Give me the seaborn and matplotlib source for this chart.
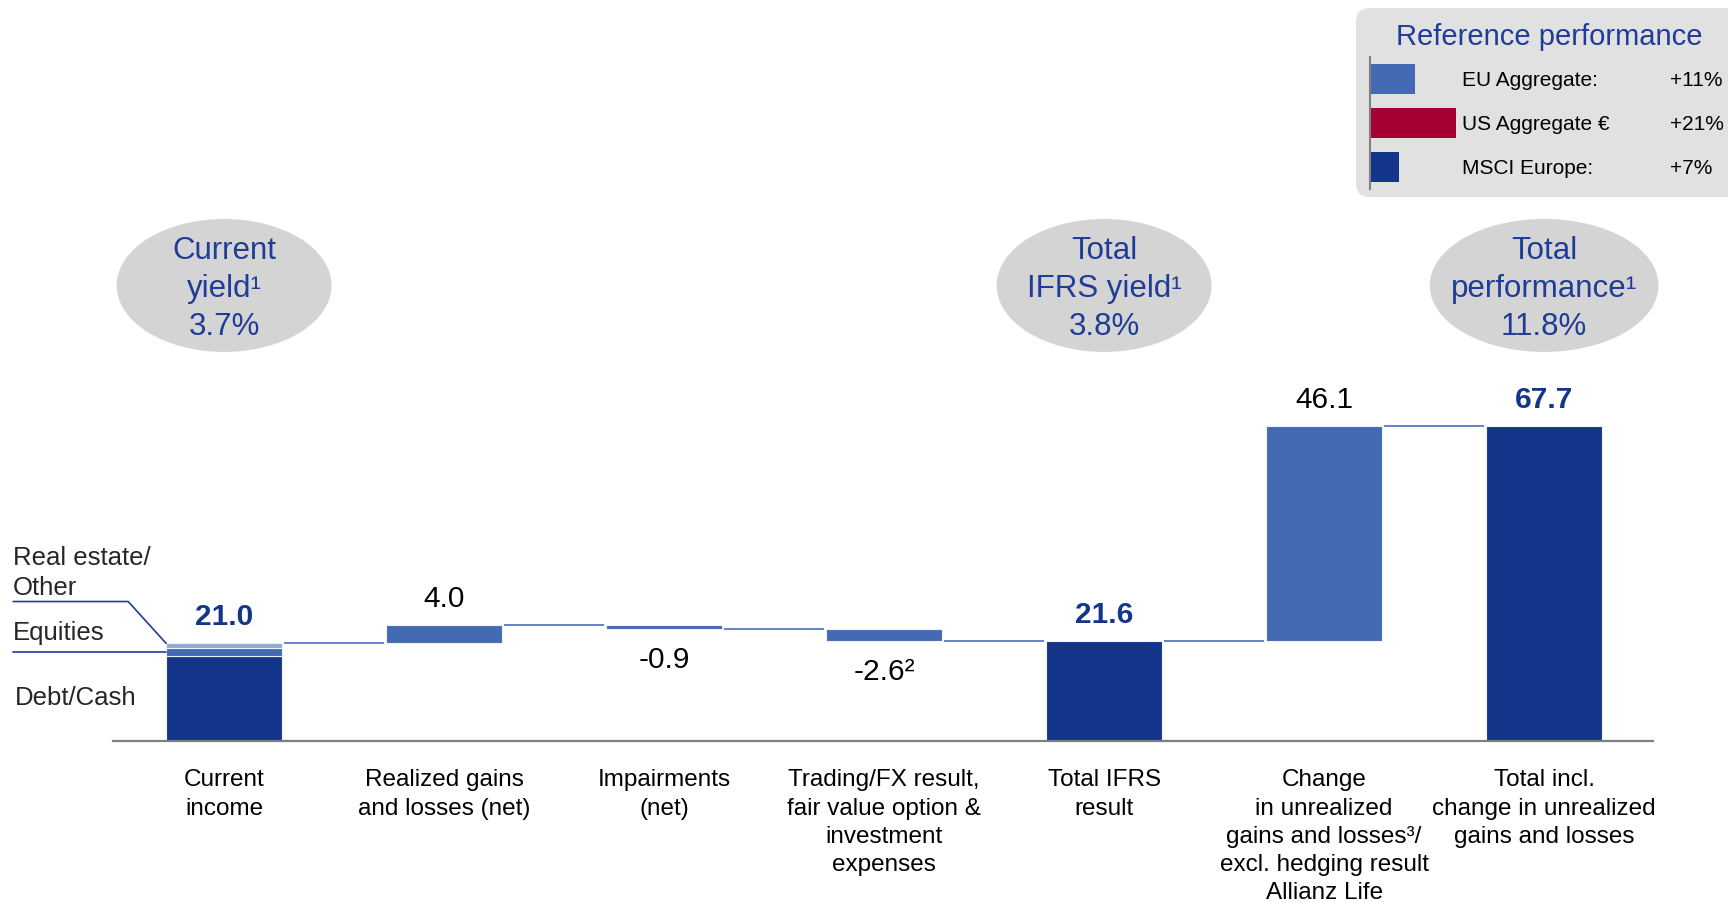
import numpy as np
import pandas as pd
import matplotlib.pyplot as plt
from matplotlib.patches import Ellipse, FancyBboxPatch
from matplotlib.transforms import blended_transform_factory
import seaborn as sns

# Waterfall steps (EUR bn)
steps = [
    "Current\nincome",
    "Realized gains\nand losses (net)",
    "Impairments\n(net)",
    "Trading/FX result,\nfair value option &\ninvestment\nexpenses",
    "Total IFRS\nresult",
    "Change\nin unrealized\ngains and losses³/\nexcl. hedging result\nAllianz Life",
    "Total incl.\nchange in unrealized\ngains and losses",
]
step_values = [21.0, 4.0, -0.9, -2.6, 21.6, 46.1, 67.7]
step_kind = ["total", "delta", "delta", "delta", "total", "delta", "total"]
value_labels = ["21.0", "4.0", "-0.9", "-2.6²", "21.6", "46.1", "67.7"]

# Split of current income
income_parts = ["Debt/Cash", "Equities", "Real estate/\nOther"]
income_values = [18.3, 1.8, 0.9]

# Yield bubbles
yield_steps = [0, 4, 6]
yield_labels = ["Current\nyield¹\n3.7%", "Total\nIFRS yield¹\n3.8%", "Total\nperformance¹\n11.8%"]

# Reference performance box
ref_names = ["EU Aggregate:", "US Aggregate €", "MSCI Europe:"]
ref_values = [11, 21, 7]
ref_labels = ["+11%", "+21%", "+7%"]

NAVY = "#13358a"
MID = "#436ab2"
LIGHT = "#8ea8d8"
CRIMSON = "#a50034"
TXT_BLUE = "#1f3c96"
BAR_W = 0.527

sns.set_theme(style="white")
plt.rcParams["font.family"] = ["Liberation Sans", "DejaVu Sans"]

# build segments: stacked first bar + floating bars
rows = []
level = 0.0
levels = []
for i, (v, k) in enumerate(zip(step_values, step_kind)):
    if i == 0:
        b = 0.0
        for part, pv, c in zip(income_parts, income_values, [NAVY, MID, LIGHT]):
            rows.append((steps[0], pv, b, c))
            b += pv
        level = v
    elif k == "total":
        rows.append((steps[i], v, 0.0, NAVY))
        level = v
    else:
        rows.append((steps[i], v, level, MID))
        level += v
    levels.append(level)
seg = pd.DataFrame(rows, columns=["step", "height", "bottom", "color"])
seg["seg_id"] = [f"s{i}" for i in range(len(seg))]

fig = plt.figure(figsize=(17.28, 9.02), dpi=100)
ax = fig.add_axes([0.0654, 0.1785, 0.8912, 0.8215])
ax.set_facecolor("none")

sns.barplot(data=seg, x="step", y="height", hue="seg_id", order=steps,
            hue_order=list(seg["seg_id"]), palette=dict(zip(seg["seg_id"], seg["color"])),
            dodge=False, width=BAR_W, errorbar=None, legend=False, saturation=1,
            edgecolor="#eef2fa", linewidth=0.8, ax=ax)
for patch, b in zip(ax.patches, seg["bottom"]):
    patch.set_y(b)

ax.set_xlim(-0.505, 6.495)
ax.set_ylim(0, 159.4)
ax.set_xlabel("")
ax.set_ylabel("")
ax.set_yticks([])
sns.despine(ax=ax, left=True)
ax.spines["bottom"].set_color("#7f7f7f")
ax.spines["bottom"].set_linewidth(1.6)
ax.tick_params(axis="x", length=0, pad=20.5, labelsize=17.5, colors="black")
for t in ax.get_xticklabels():
    t.set_linespacing(1.36)

# connectors
x = np.arange(len(steps))
ax.hlines(levels[:-1], x[:-1] + BAR_W / 2 + 0.01, x[1:] - BAR_W / 2 - 0.01,
          colors="#3d62b0", linewidth=1.1)

# value labels
for i, (v, k, lab) in enumerate(zip(step_values, step_kind, value_labels)):
    bot = 0.0 if k == "total" else (levels[i] - v)
    top = bot + v
    if k == "total":
        ax.annotate(lab, (i, top), xytext=(0, 13), textcoords="offset points",
                    ha="center", va="baseline", fontsize=21.5, fontweight="bold", color=NAVY)
    elif v > 0:
        ax.annotate(lab, (i, top), xytext=(0, 13), textcoords="offset points",
                    ha="center", va="baseline", fontsize=21.5, color="black")
    else:
        ax.annotate(lab, (i, top), xytext=(0, -12), textcoords="offset points",
                    ha="center", va="top", fontsize=21.5, color="black")

# yield bubbles
for s, lab in zip(yield_steps, yield_labels):
    w = 1.04 if s == 6 else 0.977
    ax.add_patch(Ellipse((s, 98), w, 28.6, facecolor="#d4d4d4", edgecolor="none", clip_on=False))
    ax.text(s, 97.2, lab, ha="center", va="center", fontsize=22.5, color=TXT_BLUE,
            linespacing=1.35)

# income split annotations
left_edge = -BAR_W / 2
ax.text(-0.959, 31.4, income_parts[2], ha="left", va="baseline", fontsize=18.5,
        linespacing=1.32, clip_on=False)
ax.text(-0.959, 21.7, income_parts[1], ha="left", va="baseline", fontsize=18.5, clip_on=False)
ax.text(-0.95, 7.7, income_parts[0], ha="left", va="baseline", fontsize=18.5, clip_on=False)
ax.plot([-0.959, -0.436, left_edge], [30.0, 30.0, step_values[0]], color=TXT_BLUE,
        lw=1.2, clip_on=False)
eq_mid = income_values[0] + income_values[1] / 2
ax.plot([-0.959, left_edge], [eq_mid, eq_mid], color=TXT_BLUE, lw=1.2, clip_on=False)

# reference performance box
box = FancyBboxPatch((13.56, 7.05), 3.9, 1.89, boxstyle="round,pad=0,rounding_size=0.14",
                     transform=fig.dpi_scale_trans, facecolor="#e1e1e1", edgecolor="none",
                     zorder=-1)
fig.add_artist(box)
fig.text(0.8964, 0.950, "Reference performance", ha="center", va="baseline",
         fontsize=21, color=TXT_BLUE)

ax_ref = fig.add_axes([1370 / 1728, 1 - 189 / 902, 150 / 1728, 132 / 902])
ax_ref.set_facecolor("none")
sns.barplot(x=ref_values, y=ref_names, hue=ref_names, palette=[MID, CRIMSON, NAVY],
            orient="h", width=0.66, errorbar=None, legend=False, saturation=1,
            linewidth=0, ax=ax_ref)
ax_ref.set_xlim(0, 150 / 4.1)
ax_ref.set_ylim(2.5, -0.5)
ax_ref.set_xticks([])
ax_ref.set_yticks([])
ax_ref.set_xlabel("")
ax_ref.set_ylabel("")
for sp in ["top", "right", "bottom"]:
    ax_ref.spines[sp].set_visible(False)
ax_ref.spines["left"].set_color("#808080")
ax_ref.spines["left"].set_linewidth(1.5)
tr = blended_transform_factory(fig.transFigure, ax_ref.transData)
for j, (nm, lab) in enumerate(zip(ref_names, ref_labels)):
    ax_ref.text(0.8459, j, nm, transform=tr, ha="left", va="center_baseline", fontsize=15,
                color="black")
    ax_ref.text(0.9664, j, lab, transform=tr, ha="left", va="center_baseline", fontsize=15,
                color="black")

fig.savefig("out.png", dpi=100)
